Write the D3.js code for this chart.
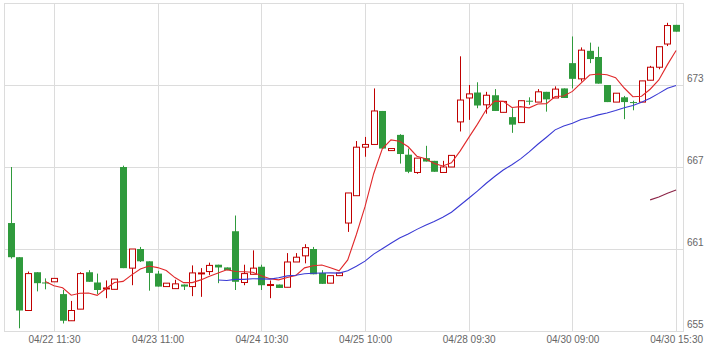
<!DOCTYPE html>
<html>
<head>
<meta charset="utf-8">
<script src="https://cdn.jsdelivr.net/npm/d3@7"></script>
<style>
  body { margin: 0; background: #fff; }
  .axis text { font-family: "Liberation Sans", Arial, sans-serif; font-size: 10px; fill: #666; }
</style>
</head>
<body>
<script>
// 30 min candles
var opens  = [662.9,660.4,656.5,659.3,658.55,658.6,657.7,655.75,656.6,659.3,658.55,658.1,658.05,667.0,659.6,661.0,660.1,659.2,658.25,658.1,
              658.4,658.25,659.2,659.35,659.85,659.65,662.3,658.55,659.15,659.7,658.35,658.4,658.2,660.05,660.5,661.0,659.25,658.5,659.05,662.9,
              664.9,668.45,668.65,671.1,668.2,669.35,667.9,666.6,667.65,667.45,666.6,667.0,670.3,672.05,672.45,671.55,672.25,671.0,670.65,670.25,
              671.85,671.75,672.5,672.05,672.75,674.6,673.45,675.5,675.05,673.0,671.75,672.1,671.75,671.75,673.35,674.3,676.0,677.4];
var highs  = [667.0,660.4,659.35,659.3,658.85,658.85,658.0,657.2,659.3,659.45,659.2,658.7,658.8,667.1,661.0,661.15,660.1,659.4,658.5,658.75,
              658.4,659.8,659.6,660.0,659.85,659.65,663.45,659.85,660.9,659.85,658.7,658.4,660.7,660.7,661.35,661.15,659.45,659.05,659.25,665.1,
              668.9,669.2,672.75,671.1,668.35,669.4,668.35,667.65,668.55,667.45,667.45,667.85,675.1,673.0,673.2,672.5,672.7,671.8,671.3,671.85,
              672.1,672.7,672.5,672.9,672.75,676.55,675.75,676.1,675.8,673.0,672.4,672.2,671.85,673.3,674.4,675.8,677.55,677.4];
var lows   = [660.3,655.2,656.5,657.9,658.05,658.6,655.55,655.75,656.6,658.6,657.7,657.4,658.05,659.6,658.35,660.05,657.95,658.25,658.25,658.1,
              658.0,657.55,657.5,659.1,658.5,659.45,658.0,658.35,659.15,658.0,657.4,658.15,658.2,660.05,659.95,659.15,658.45,658.5,659.05,662.25,
              664.9,667.75,668.65,668.35,668.2,667.25,666.55,666.5,667.4,666.65,666.6,667.0,669.6,670.45,671.3,670.9,671.1,671.0,669.5,670.25,
              671.55,671.75,671.05,672.05,672.05,672.75,673.25,674.6,673.1,671.75,671.75,670.5,671.15,671.75,673.35,674.15,675.85,676.9];
var closes = [660.4,656.5,659.2,658.5,658.5,658.85,655.75,656.5,659.2,658.6,658.0,658.15,658.8,659.6,661.0,660.1,659.25,658.25,658.5,658.45,
              658.25,659.25,659.25,659.8,659.65,659.45,658.6,659.2,659.6,658.35,658.4,658.15,660.05,660.4,661.1,659.15,658.45,659.05,659.25,665.1,
              668.45,668.65,671.1,668.35,668.35,667.95,666.65,667.65,667.4,666.65,667.0,667.85,671.9,672.35,671.5,672.25,671.1,671.8,670.1,671.85,
              671.8,672.5,671.95,672.7,672.05,673.45,675.55,674.9,673.1,671.75,672.4,671.75,671.7,673.3,674.3,675.8,677.35,676.9];

var tickIdx = [5, 17, 29, 41, 53, 65, 77];
var xLabels = ['04/22 11:30', '04/23 11:00', '04/24 10:30', '04/25 10:00', '04/28 09:30', '04/30 09:00', '04/30 15:30'];
var yTicks = [655, 661, 667, 673];
var maPeriods = [5, 25, 75];
var maColors = ['#e0282a', '#3a3ad4', '#8b2346'];

var W = 726, H = 352;
var plotL = 4, plotR = 683, plotT = 3, plotB = 331;

var xScale = d3.scaleLinear().domain([-0.78, 77.8]).range([plotL, plotR]);
var yScale = d3.scaleLinear().domain([655, 679]).range([plotB, plotT]);

var svg = d3.select('body').append('svg')
    .attr('width', W)
    .attr('height', H);

// grid
var grid = svg.append('g').attr('stroke', '#dcdcdc').attr('stroke-width', 1).attr('shape-rendering', 'crispEdges');
grid.selectAll('.hg')
  .data(yTicks.slice(1))
  .enter().append('line')
  .attr('x1', plotL).attr('x2', plotR)
  .attr('y1', function (d) { return Math.round(yScale(d)) + 0.5; })
  .attr('y2', function (d) { return Math.round(yScale(d)) + 0.5; });
grid.selectAll('.vg')
  .data(tickIdx)
  .enter().append('line')
  .attr('y1', plotT).attr('y2', plotB)
  .attr('x1', function (d) { return Math.round(xScale(d)) + 0.5; })
  .attr('x2', function (d) { return Math.round(xScale(d)) + 0.5; });
grid.append('rect')
  .attr('x', plotL + 0.5).attr('y', plotT + 0.5)
  .attr('width', plotR - plotL).attr('height', plotB - plotT)
  .attr('fill', 'none');

// axes
var xAxis = d3.axisBottom(xScale)
  .tickValues(tickIdx)
  .tickFormat(function (d, i) { return xLabels[i]; })
  .tickSize(0)
  .tickPadding(5);
svg.append('g')
  .attr('class', 'axis')
  .attr('transform', 'translate(0,' + plotB + ')')
  .call(xAxis)
  .call(function (g) { g.select('.domain').remove(); });

var yAxis = d3.axisRight(yScale).tickValues(yTicks).tickSize(0).tickPadding(4);
svg.append('g')
  .attr('class', 'axis')
  .attr('transform', 'translate(' + plotR + ',0)')
  .call(yAxis)
  .call(function (g) { g.select('.domain').remove(); })
  .selectAll('text').attr('dy', '-0.35em');

// candles
var candles = d3.range(opens.length).map(function (i) {
  return { i: i, o: opens[i], h: highs[i], l: lows[i], c: closes[i] };
});
var up = function (d) { return d.c >= d.o; };
var green = '#2f9a3c', red = '#c00000';

var cg = svg.selectAll('.candle')
  .data(candles)
  .enter().append('g')
  .attr('class', 'candle');

cg.append('line')
  .attr('x1', function (d) { return Math.round(xScale(d.i)) + 0.5; })
  .attr('x2', function (d) { return Math.round(xScale(d.i)) + 0.5; })
  .attr('y1', function (d) { return yScale(d.h); })
  .attr('y2', function (d) { return yScale(d.l); })
  .attr('stroke', function (d) { return up(d) ? red : green; })
  .attr('stroke-width', 1);

cg.append('rect')
  .attr('x', function (d) { return Math.round(xScale(d.i)) - 3 + (up(d) ? 0.5 : 0); })
  .attr('y', function (d) { return yScale(Math.max(d.o, d.c)); })
  .attr('width', function (d) { return up(d) ? 6 : 7; })
  .attr('height', function (d) { return Math.max(1, Math.abs(yScale(d.o) - yScale(d.c))); })
  .attr('fill', function (d) { return up(d) ? '#fff' : green; })
  .attr('stroke', function (d) { return up(d) ? red : 'none'; })
  .attr('stroke-width', 1);

// moving averages of close
var line = d3.line()
  .x(function (d) { return xScale(d.i); })
  .y(function (d) { return yScale(d.v); });

maPeriods.forEach(function (p, k) {
  var pts = [];
  for (var i = p - 1; i < closes.length; i++) {
    pts.push({ i: i, v: d3.mean(closes.slice(i - p + 1, i + 1)) });
  }
  svg.append('path')
    .datum(pts)
    .attr('d', line)
    .attr('fill', 'none')
    .attr('stroke', maColors[k])
    .attr('stroke-width', 1.1);
});
</script>
</body>
</html>
